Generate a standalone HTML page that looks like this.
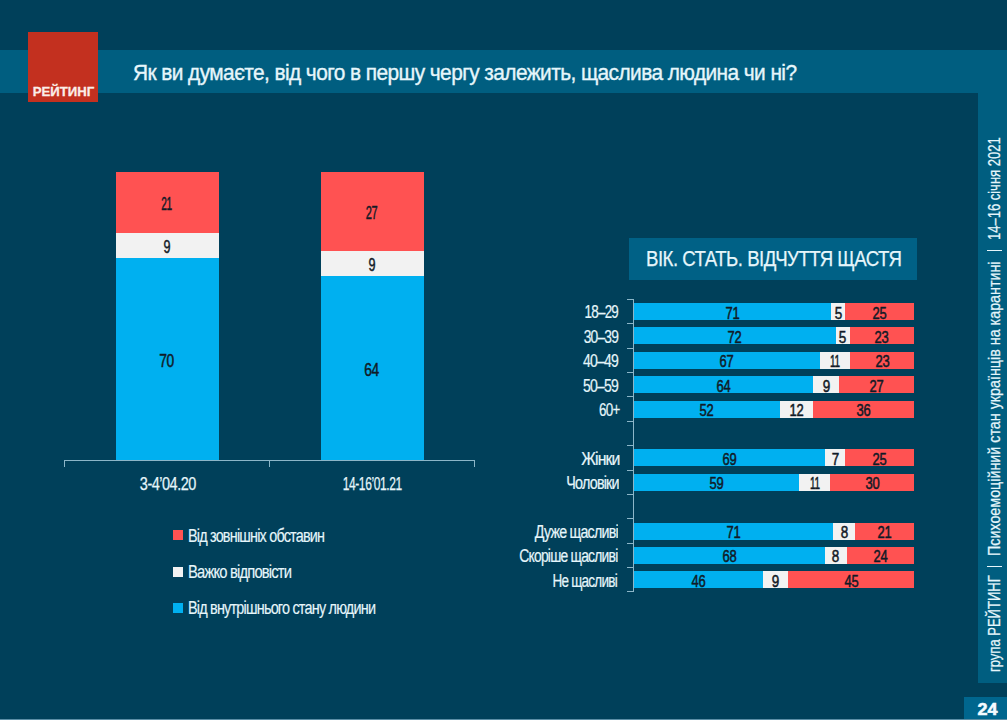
<!DOCTYPE html>
<html><head><meta charset="utf-8"><style>
html,body{margin:0;padding:0;}
body{width:1007px;height:720px;overflow:hidden;background:#00405a;position:relative;font-family:"Liberation Sans", sans-serif;}
.r{position:absolute;}
.t{position:absolute;white-space:pre;line-height:1;font-family:"Liberation Sans", sans-serif;}
</style></head><body>
<div class="r" style="left:0.00px;top:50.00px;width:1007.00px;height:43.00px;background:#005e80;"></div>
<div class="r" style="left:978.00px;top:93.00px;width:29.00px;height:590.00px;background:#005e80;"></div>
<div class="r" style="left:964.00px;top:697.00px;width:43.00px;height:23.00px;background:#00668e;"></div>
<div class="r" style="left:0.00px;top:719.00px;width:1007.00px;height:1.00px;background:#5b8ea6;"></div>
<div class="t" style="left:977.74px;top:700.61px;font-size:17px;color:#f4fbff;font-weight:700;-webkit-text-stroke:0.6px #f4fbff;transform:scaleX(1.0570);transform-origin:center;">24</div>
<div class="r" style="left:28.00px;top:32.00px;width:69.50px;height:69.50px;background:#c3301f;"></div>
<div class="t" style="left:32.46px;top:85.37px;font-size:13.5px;color:#fbeee8;font-weight:700;-webkit-text-stroke:0.3px #fbeee8;transform:scaleX(0.9750);transform-origin:center;">РЕЙТИНГ</div>
<div class="t" style="left:133.00px;top:62.50px;font-size:21.5px;color:#e6f6fb;font-weight:400;letter-spacing:-0.6px;-webkit-text-stroke:0.35px #e6f6fb;transform:scaleX(0.9716);transform-origin:left;">Як ви думаєте, від чого в першу чергу залежить, щаслива людина чи ні?</div>
<div class="r" style="left:116.00px;top:172.00px;width:102.50px;height:60.50px;background:#ff5252;"></div>
<div class="t" style="left:157.48px;top:194.81px;font-size:18px;color:#111a26;font-weight:400;letter-spacing:-0.5px;-webkit-text-stroke:0.5px #111a26;transform:scaleX(0.5632);transform-origin:center;">21</div>
<div class="r" style="left:116.00px;top:232.50px;width:102.50px;height:25.90px;background:#f2f2f2;"></div>
<div class="t" style="left:162.24px;top:238.01px;font-size:18px;color:#111a26;font-weight:400;letter-spacing:-0.5px;-webkit-text-stroke:0.5px #111a26;transform:scaleX(0.6989);transform-origin:center;">9</div>
<div class="r" style="left:116.00px;top:258.40px;width:102.50px;height:202.10px;background:#00b0f0;"></div>
<div class="t" style="left:157.48px;top:352.01px;font-size:18px;color:#111a26;font-weight:400;letter-spacing:-0.5px;-webkit-text-stroke:0.5px #111a26;transform:scaleX(0.7680);transform-origin:center;">70</div>
<div class="t" style="left:132.61px;top:474.76px;font-size:18px;color:#e6f6fb;font-weight:400;letter-spacing:-0.6px;-webkit-text-stroke:0.25px #e6f6fb;transform:scaleX(0.8040);transform-origin:center;">3-4’04.20</div>
<div class="r" style="left:320.50px;top:172.00px;width:103.00px;height:79.20px;background:#ff5252;"></div>
<div class="t" style="left:362.23px;top:204.16px;font-size:18px;color:#111a26;font-weight:400;letter-spacing:-0.5px;-webkit-text-stroke:0.5px #111a26;transform:scaleX(0.6144);transform-origin:center;">27</div>
<div class="r" style="left:320.50px;top:251.20px;width:103.00px;height:24.60px;background:#f2f2f2;"></div>
<div class="t" style="left:366.99px;top:256.06px;font-size:18px;color:#111a26;font-weight:400;letter-spacing:-0.5px;-webkit-text-stroke:0.5px #111a26;transform:scaleX(0.6989);transform-origin:center;">9</div>
<div class="r" style="left:320.50px;top:275.80px;width:103.00px;height:184.70px;background:#00b0f0;"></div>
<div class="t" style="left:362.23px;top:360.71px;font-size:18px;color:#111a26;font-weight:400;letter-spacing:-0.5px;-webkit-text-stroke:0.5px #111a26;transform:scaleX(0.7680);transform-origin:center;">64</div>
<div class="t" style="left:327.96px;top:474.76px;font-size:18px;color:#e6f6fb;font-weight:400;letter-spacing:-0.6px;-webkit-text-stroke:0.25px #e6f6fb;transform:scaleX(0.6679);transform-origin:center;">14-16’01.21</div>
<div class="r" style="left:64.00px;top:460.00px;width:411.00px;height:1.00px;background:#8cb6c8;"></div>
<div class="r" style="left:64.00px;top:460.00px;width:1.00px;height:7.00px;background:#8cb6c8;"></div>
<div class="r" style="left:269.00px;top:460.00px;width:1.00px;height:7.00px;background:#8cb6c8;"></div>
<div class="r" style="left:474.00px;top:460.00px;width:1.00px;height:7.00px;background:#8cb6c8;"></div>
<div class="r" style="left:173.00px;top:530.40px;width:10.00px;height:10.00px;background:#ff5252;"></div>
<div class="t" style="left:188.00px;top:526.96px;font-size:18px;color:#e6f6fb;font-weight:400;letter-spacing:-1.0px;-webkit-text-stroke:0.15px #e6f6fb;transform:scaleX(0.8003);transform-origin:left;">Від зовнішніх обставин</div>
<div class="r" style="left:173.00px;top:566.80px;width:10.00px;height:10.00px;background:#f2f2f2;"></div>
<div class="t" style="left:188.00px;top:563.36px;font-size:18px;color:#e6f6fb;font-weight:400;letter-spacing:-1.0px;-webkit-text-stroke:0.15px #e6f6fb;transform:scaleX(0.8199);transform-origin:left;">Важко відповісти</div>
<div class="r" style="left:173.00px;top:602.70px;width:10.00px;height:10.00px;background:#00b0f0;"></div>
<div class="t" style="left:188.00px;top:599.26px;font-size:18px;color:#e6f6fb;font-weight:400;letter-spacing:-1.0px;-webkit-text-stroke:0.15px #e6f6fb;transform:scaleX(0.8021);transform-origin:left;">Від внутрішнього стану людини</div>
<div class="r" style="left:629.00px;top:237.50px;width:288.00px;height:42.00px;background:#006186;"></div>
<div class="t" style="left:646.00px;top:248.38px;font-size:22px;color:#e6f6fb;font-weight:400;letter-spacing:-0.6px;-webkit-text-stroke:0.25px #e6f6fb;transform:scaleX(0.8462);transform-origin:left;">ВІК. СТАТЬ. ВІДЧУТТЯ ЩАСТЯ</div>
<div class="r" style="left:633.00px;top:299.00px;width:1.00px;height:293.00px;background:#8cb6c8;"></div>
<div class="r" style="left:627.00px;top:299.00px;width:7.00px;height:1.00px;background:#8cb6c8;"></div>
<div class="r" style="left:627.00px;top:323.00px;width:7.00px;height:1.00px;background:#8cb6c8;"></div>
<div class="r" style="left:627.00px;top:348.00px;width:7.00px;height:1.00px;background:#8cb6c8;"></div>
<div class="r" style="left:627.00px;top:372.00px;width:7.00px;height:1.00px;background:#8cb6c8;"></div>
<div class="r" style="left:627.00px;top:396.00px;width:7.00px;height:1.00px;background:#8cb6c8;"></div>
<div class="r" style="left:627.00px;top:421.00px;width:7.00px;height:1.00px;background:#8cb6c8;"></div>
<div class="r" style="left:627.00px;top:445.00px;width:7.00px;height:1.00px;background:#8cb6c8;"></div>
<div class="r" style="left:627.00px;top:470.00px;width:7.00px;height:1.00px;background:#8cb6c8;"></div>
<div class="r" style="left:627.00px;top:494.00px;width:7.00px;height:1.00px;background:#8cb6c8;"></div>
<div class="r" style="left:627.00px;top:518.00px;width:7.00px;height:1.00px;background:#8cb6c8;"></div>
<div class="r" style="left:627.00px;top:543.00px;width:7.00px;height:1.00px;background:#8cb6c8;"></div>
<div class="r" style="left:627.00px;top:567.00px;width:7.00px;height:1.00px;background:#8cb6c8;"></div>
<div class="r" style="left:627.00px;top:591.00px;width:7.00px;height:1.00px;background:#8cb6c8;"></div>
<div class="r" style="left:634.00px;top:303.10px;width:197.04px;height:17.00px;background:#00b0f0;"></div>
<div class="t" style="left:723.87px;top:305.56px;font-size:16px;color:#111a26;font-weight:400;letter-spacing:-0.5px;-webkit-text-stroke:0.5px #111a26;transform:scaleX(0.8094);transform-origin:center;">71</div>
<div class="r" style="left:831.04px;top:303.10px;width:13.88px;height:17.00px;background:#f2f2f2;"></div>
<div class="t" style="left:833.53px;top:305.56px;font-size:16px;color:#111a26;font-weight:400;letter-spacing:-0.5px;-webkit-text-stroke:0.5px #111a26;transform:scaleX(0.8421);transform-origin:center;">5</div>
<div class="r" style="left:844.92px;top:303.10px;width:69.38px;height:17.00px;background:#ff5252;"></div>
<div class="t" style="left:870.96px;top:305.56px;font-size:16px;color:#111a26;font-weight:400;letter-spacing:-0.5px;-webkit-text-stroke:0.5px #111a26;transform:scaleX(0.8094);transform-origin:center;">25</div>
<div class="t" style="left:572.64px;top:303.46px;font-size:18px;color:#e6f6fb;font-weight:400;letter-spacing:-1.0px;-webkit-text-stroke:0.2px #e6f6fb;transform:scaleX(0.7446);transform-origin:right;">18–29</div>
<div class="r" style="left:634.00px;top:327.49px;width:201.82px;height:17.00px;background:#00b0f0;"></div>
<div class="t" style="left:726.26px;top:329.95px;font-size:16px;color:#111a26;font-weight:400;letter-spacing:-0.5px;-webkit-text-stroke:0.5px #111a26;transform:scaleX(0.8094);transform-origin:center;">72</div>
<div class="r" style="left:835.82px;top:327.49px;width:14.01px;height:17.00px;background:#f2f2f2;"></div>
<div class="t" style="left:838.37px;top:329.95px;font-size:16px;color:#111a26;font-weight:400;letter-spacing:-0.5px;-webkit-text-stroke:0.5px #111a26;transform:scaleX(0.8421);transform-origin:center;">5</div>
<div class="r" style="left:849.83px;top:327.49px;width:64.47px;height:17.00px;background:#ff5252;"></div>
<div class="t" style="left:873.42px;top:329.95px;font-size:16px;color:#111a26;font-weight:400;letter-spacing:-0.5px;-webkit-text-stroke:0.5px #111a26;transform:scaleX(0.8094);transform-origin:center;">23</div>
<div class="t" style="left:572.64px;top:327.85px;font-size:18px;color:#e6f6fb;font-weight:400;letter-spacing:-1.0px;-webkit-text-stroke:0.2px #e6f6fb;transform:scaleX(0.7642);transform-origin:right;">30–39</div>
<div class="r" style="left:634.00px;top:351.88px;width:185.94px;height:17.00px;background:#00b0f0;"></div>
<div class="t" style="left:718.32px;top:354.34px;font-size:16px;color:#111a26;font-weight:400;letter-spacing:-0.5px;-webkit-text-stroke:0.5px #111a26;transform:scaleX(0.8094);transform-origin:center;">67</div>
<div class="r" style="left:819.94px;top:351.88px;width:30.53px;height:17.00px;background:#f2f2f2;"></div>
<div class="t" style="left:827.15px;top:354.34px;font-size:16px;color:#111a26;font-weight:400;letter-spacing:-0.5px;-webkit-text-stroke:0.5px #111a26;transform:scaleX(0.6208);transform-origin:center;">11</div>
<div class="r" style="left:850.47px;top:351.88px;width:63.83px;height:17.00px;background:#ff5252;"></div>
<div class="t" style="left:873.74px;top:354.34px;font-size:16px;color:#111a26;font-weight:400;letter-spacing:-0.5px;-webkit-text-stroke:0.5px #111a26;transform:scaleX(0.8094);transform-origin:center;">23</div>
<div class="t" style="left:572.64px;top:352.24px;font-size:18px;color:#e6f6fb;font-weight:400;letter-spacing:-1.0px;-webkit-text-stroke:0.2px #e6f6fb;transform:scaleX(0.7794);transform-origin:right;">40–49</div>
<div class="r" style="left:634.00px;top:376.27px;width:179.39px;height:17.00px;background:#00b0f0;"></div>
<div class="t" style="left:715.05px;top:378.73px;font-size:16px;color:#111a26;font-weight:400;letter-spacing:-0.5px;-webkit-text-stroke:0.5px #111a26;transform:scaleX(0.8094);transform-origin:center;">64</div>
<div class="r" style="left:813.39px;top:376.27px;width:25.23px;height:17.00px;background:#f2f2f2;"></div>
<div class="t" style="left:821.55px;top:378.73px;font-size:16px;color:#111a26;font-weight:400;letter-spacing:-0.5px;-webkit-text-stroke:0.5px #111a26;transform:scaleX(0.8421);transform-origin:center;">9</div>
<div class="r" style="left:838.62px;top:376.27px;width:75.68px;height:17.00px;background:#ff5252;"></div>
<div class="t" style="left:867.81px;top:378.73px;font-size:16px;color:#111a26;font-weight:400;letter-spacing:-0.5px;-webkit-text-stroke:0.5px #111a26;transform:scaleX(0.8094);transform-origin:center;">27</div>
<div class="t" style="left:572.64px;top:376.63px;font-size:18px;color:#e6f6fb;font-weight:400;letter-spacing:-1.0px;-webkit-text-stroke:0.2px #e6f6fb;transform:scaleX(0.7794);transform-origin:right;">50–59</div>
<div class="r" style="left:634.00px;top:400.66px;width:145.76px;height:17.00px;background:#00b0f0;"></div>
<div class="t" style="left:698.23px;top:403.12px;font-size:16px;color:#111a26;font-weight:400;letter-spacing:-0.5px;-webkit-text-stroke:0.5px #111a26;transform:scaleX(0.8094);transform-origin:center;">52</div>
<div class="r" style="left:779.76px;top:400.66px;width:33.64px;height:17.00px;background:#f2f2f2;"></div>
<div class="t" style="left:787.93px;top:403.12px;font-size:16px;color:#111a26;font-weight:400;letter-spacing:-0.5px;-webkit-text-stroke:0.5px #111a26;transform:scaleX(0.8094);transform-origin:center;">12</div>
<div class="r" style="left:813.39px;top:400.66px;width:100.91px;height:17.00px;background:#ff5252;"></div>
<div class="t" style="left:855.20px;top:403.12px;font-size:16px;color:#111a26;font-weight:400;letter-spacing:-0.5px;-webkit-text-stroke:0.5px #111a26;transform:scaleX(0.8094);transform-origin:center;">36</div>
<div class="t" style="left:591.55px;top:401.02px;font-size:18px;color:#e6f6fb;font-weight:400;letter-spacing:-1.0px;-webkit-text-stroke:0.2px #e6f6fb;transform:scaleX(0.7461);transform-origin:right;">60+</div>
<div class="r" style="left:634.00px;top:449.44px;width:191.49px;height:17.00px;background:#00b0f0;"></div>
<div class="t" style="left:721.10px;top:451.90px;font-size:16px;color:#111a26;font-weight:400;letter-spacing:-0.5px;-webkit-text-stroke:0.5px #111a26;transform:scaleX(0.8094);transform-origin:center;">69</div>
<div class="r" style="left:825.49px;top:449.44px;width:19.43px;height:17.00px;background:#f2f2f2;"></div>
<div class="t" style="left:830.75px;top:451.90px;font-size:16px;color:#111a26;font-weight:400;letter-spacing:-0.5px;-webkit-text-stroke:0.5px #111a26;transform:scaleX(0.8421);transform-origin:center;">7</div>
<div class="r" style="left:844.92px;top:449.44px;width:69.38px;height:17.00px;background:#ff5252;"></div>
<div class="t" style="left:870.96px;top:451.90px;font-size:16px;color:#111a26;font-weight:400;letter-spacing:-0.5px;-webkit-text-stroke:0.5px #111a26;transform:scaleX(0.8094);transform-origin:center;">25</div>
<div class="t" style="left:575.70px;top:449.80px;font-size:18px;color:#e6f6fb;font-weight:400;letter-spacing:-1.0px;-webkit-text-stroke:0.2px #e6f6fb;transform:scaleX(0.8787);transform-origin:right;">Жінки</div>
<div class="r" style="left:634.00px;top:473.83px;width:165.38px;height:17.00px;background:#00b0f0;"></div>
<div class="t" style="left:708.04px;top:476.29px;font-size:16px;color:#111a26;font-weight:400;letter-spacing:-0.5px;-webkit-text-stroke:0.5px #111a26;transform:scaleX(0.8094);transform-origin:center;">59</div>
<div class="r" style="left:799.38px;top:473.83px;width:30.83px;height:17.00px;background:#f2f2f2;"></div>
<div class="t" style="left:806.74px;top:476.29px;font-size:16px;color:#111a26;font-weight:400;letter-spacing:-0.5px;-webkit-text-stroke:0.5px #111a26;transform:scaleX(0.6208);transform-origin:center;">11</div>
<div class="r" style="left:830.21px;top:473.83px;width:84.09px;height:17.00px;background:#ff5252;"></div>
<div class="t" style="left:863.61px;top:476.29px;font-size:16px;color:#111a26;font-weight:400;letter-spacing:-0.5px;-webkit-text-stroke:0.5px #111a26;transform:scaleX(0.8094);transform-origin:center;">30</div>
<div class="t" style="left:553.37px;top:474.19px;font-size:18px;color:#e6f6fb;font-weight:400;letter-spacing:-1.0px;-webkit-text-stroke:0.2px #e6f6fb;transform:scaleX(0.7976);transform-origin:right;">Чоловіки</div>
<div class="r" style="left:634.00px;top:522.61px;width:199.01px;height:17.00px;background:#00b0f0;"></div>
<div class="t" style="left:724.86px;top:525.07px;font-size:16px;color:#111a26;font-weight:400;letter-spacing:-0.5px;-webkit-text-stroke:0.5px #111a26;transform:scaleX(0.8094);transform-origin:center;">71</div>
<div class="r" style="left:833.01px;top:522.61px;width:22.42px;height:17.00px;background:#f2f2f2;"></div>
<div class="t" style="left:839.77px;top:525.07px;font-size:16px;color:#111a26;font-weight:400;letter-spacing:-0.5px;-webkit-text-stroke:0.5px #111a26;transform:scaleX(0.8421);transform-origin:center;">8</div>
<div class="r" style="left:855.44px;top:522.61px;width:58.86px;height:17.00px;background:#ff5252;"></div>
<div class="t" style="left:876.22px;top:525.07px;font-size:16px;color:#111a26;font-weight:400;letter-spacing:-0.5px;-webkit-text-stroke:0.5px #111a26;transform:scaleX(0.8094);transform-origin:center;">21</div>
<div class="t" style="left:512.52px;top:522.97px;font-size:18px;color:#e6f6fb;font-weight:400;letter-spacing:-1.0px;-webkit-text-stroke:0.2px #e6f6fb;transform:scaleX(0.7913);transform-origin:right;">Дуже щасливі</div>
<div class="r" style="left:634.00px;top:547.00px;width:190.60px;height:17.00px;background:#00b0f0;"></div>
<div class="t" style="left:720.65px;top:549.46px;font-size:16px;color:#111a26;font-weight:400;letter-spacing:-0.5px;-webkit-text-stroke:0.5px #111a26;transform:scaleX(0.8094);transform-origin:center;">68</div>
<div class="r" style="left:824.60px;top:547.00px;width:22.42px;height:17.00px;background:#f2f2f2;"></div>
<div class="t" style="left:831.36px;top:549.46px;font-size:16px;color:#111a26;font-weight:400;letter-spacing:-0.5px;-webkit-text-stroke:0.5px #111a26;transform:scaleX(0.8421);transform-origin:center;">8</div>
<div class="r" style="left:847.03px;top:547.00px;width:67.27px;height:17.00px;background:#ff5252;"></div>
<div class="t" style="left:872.02px;top:549.46px;font-size:16px;color:#111a26;font-weight:400;letter-spacing:-0.5px;-webkit-text-stroke:0.5px #111a26;transform:scaleX(0.8094);transform-origin:center;">24</div>
<div class="t" style="left:490.20px;top:547.36px;font-size:18px;color:#e6f6fb;font-weight:400;letter-spacing:-1.0px;-webkit-text-stroke:0.2px #e6f6fb;transform:scaleX(0.7704);transform-origin:right;">Скоріше щасливі</div>
<div class="r" style="left:634.00px;top:571.39px;width:128.94px;height:17.00px;background:#00b0f0;"></div>
<div class="t" style="left:689.82px;top:573.85px;font-size:16px;color:#111a26;font-weight:400;letter-spacing:-0.5px;-webkit-text-stroke:0.5px #111a26;transform:scaleX(0.8094);transform-origin:center;">46</div>
<div class="r" style="left:762.94px;top:571.39px;width:25.23px;height:17.00px;background:#f2f2f2;"></div>
<div class="t" style="left:771.10px;top:573.85px;font-size:16px;color:#111a26;font-weight:400;letter-spacing:-0.5px;-webkit-text-stroke:0.5px #111a26;transform:scaleX(0.8421);transform-origin:center;">9</div>
<div class="r" style="left:788.16px;top:571.39px;width:126.13px;height:17.00px;background:#ff5252;"></div>
<div class="t" style="left:842.58px;top:573.85px;font-size:16px;color:#111a26;font-weight:400;letter-spacing:-0.5px;-webkit-text-stroke:0.5px #111a26;transform:scaleX(0.8094);transform-origin:center;">45</div>
<div class="t" style="left:531.35px;top:571.75px;font-size:18px;color:#e6f6fb;font-weight:400;letter-spacing:-1.0px;-webkit-text-stroke:0.2px #e6f6fb;transform:scaleX(0.7498);transform-origin:right;">Не щасливі</div>
<div style="position:absolute;left:0;top:0;width:720px;height:29px;transform-origin:0 0;transform:translate(978px,720px) rotate(-90deg)"><div class="t" style="left:48.30px;top:8.41px;font-size:17px;color:#e6f6fb;-webkit-text-stroke:0.25px #e6f6fb;transform:scaleX(0.7654);transform-origin:left">група РЕЙТИНГ</div><div class="t" style="left:164.20px;top:8.41px;font-size:17px;color:#e6f6fb;-webkit-text-stroke:0.25px #e6f6fb;transform:scaleX(0.8412);transform-origin:left">Психоемоційний стан українців на карантині</div><div class="t" style="left:479.60px;top:8.41px;font-size:17px;color:#e6f6fb;-webkit-text-stroke:0.25px #e6f6fb;transform:scaleX(0.7642);transform-origin:left">14–16 січня 2021</div><div class="r" style="left:153.00px;top:9px;width:1.2px;height:14.5px;background:#e6f6fb"></div><div class="r" style="left:469.00px;top:9px;width:1.2px;height:14.5px;background:#e6f6fb"></div></div>
</body></html>
